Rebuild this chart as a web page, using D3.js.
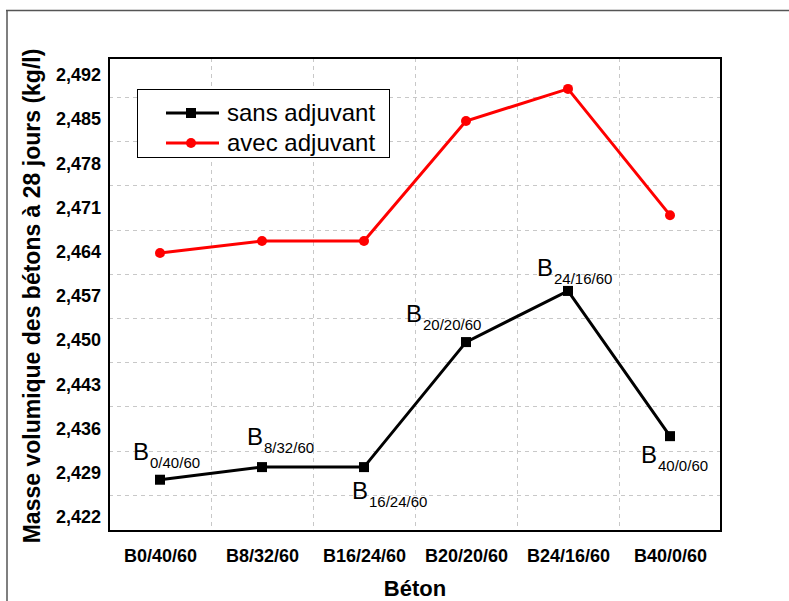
<!DOCTYPE html>
<html><head><meta charset="utf-8">
<script src="https://cdn.jsdelivr.net/npm/d3@7"></script>
<style>
html,body{margin:0;padding:0;background:#fff;}
svg{display:block;font-family:"Liberation Sans",Arial,sans-serif;}
</style></head>
<body>
<svg id="chart" width="789" height="601"></svg>
<script>
const categories = ["B0/40/60","B8/32/60","B16/24/60","B20/20/60","B24/16/60","B40/0/60"];
const subscripts = ["0/40/60","8/32/60","16/24/60","20/20/60","24/16/60","40/0/60"];
const sansAdjuvant = [2.4279, 2.4299, 2.4299, 2.4497, 2.4578, 2.4348];
const avecAdjuvant = [2.4638, 2.4657, 2.4657, 2.4847, 2.4898, 2.4698];
const yTicks = [2.422, 2.429, 2.436, 2.443, 2.450, 2.457, 2.464, 2.471, 2.478, 2.485, 2.492];
const seriesNames = ["sans adjuvant", "avec adjuvant"];
// label placement offsets (px) relative to each black point
const labelOffsets = [[-27,-20],[-15,-22],[-12,32],[-60,-20],[-31,-15],[-29,27]];

const svg = d3.select("#chart");
const L = 109, T = 58, R = 721, B = 531;

// outer frame
svg.append("line").attr("x1",6).attr("x2",789).attr("y1",10.5).attr("y2",10.5).attr("stroke","#555").attr("stroke-width",1.5);
svg.append("line").attr("x1",7).attr("x2",7).attr("y1",10).attr("y2",601).attr("stroke","#555").attr("stroke-width",1.5);

const x = d3.scalePoint().domain(categories).range([L, R]).padding(0.5);
const step = x.step();
const y = d3.scaleLinear().domain([2.41978, 2.49469]).range([B, T]);

// grid
const g = svg.append("g");
const halfStep = 0.0035;
g.selectAll(".hg").data(yTicks.slice(0, -1)).join("line")
  .attr("x1", L).attr("x2", R)
  .attr("y1", d => Math.round(y(d + halfStep)) + 0.5).attr("y2", d => Math.round(y(d + halfStep)) + 0.5)
  .attr("stroke", "#c8c8c8").attr("stroke-width", 1).attr("stroke-dasharray", "4,4");
g.selectAll(".vg").data(categories.slice(0, -1)).join("line")
  .attr("y1", T).attr("y2", B)
  .attr("x1", d => Math.round(x(d) + step/2) + 0.5).attr("x2", d => Math.round(x(d) + step/2) + 0.5)
  .attr("stroke", "#c8c8c8").attr("stroke-width", 1).attr("stroke-dasharray", "4,4");

// axes labels via d3 axes
const yAxis = d3.axisLeft(y).tickValues(yTicks).tickSize(0).tickPadding(8)
  .tickFormat(d => d3.format(".3f")(d).replace(".", ","));
const ya = svg.append("g").attr("transform", `translate(${L},0)`).call(yAxis);
ya.select(".domain").remove();
ya.selectAll("text").attr("font-family","Liberation Sans, Arial, sans-serif").attr("font-size", 18).attr("font-weight","bold").attr("fill","#000");

const xAxis = d3.axisBottom(x).tickSize(0).tickPadding(18);
const xa = svg.append("g").attr("transform", `translate(0,${B})`).call(xAxis);
xa.select(".domain").remove();
xa.selectAll("text").attr("font-family","Liberation Sans, Arial, sans-serif").attr("font-size", 18).attr("font-weight","bold").attr("fill","#000");

// plot frame
svg.append("rect").attr("x", L).attr("y", T).attr("width", R-L).attr("height", B-T)
  .attr("fill","none").attr("stroke","#000").attr("stroke-width",2);

// lines
const line = d3.line().x((d,i) => x(categories[i])).y(d => y(d));
svg.append("path").datum(avecAdjuvant).attr("d", line).attr("fill","none").attr("stroke","#ff0000").attr("stroke-width",3);
svg.append("path").datum(sansAdjuvant).attr("d", line).attr("fill","none").attr("stroke","#000").attr("stroke-width",3);

svg.selectAll(".rp").data(avecAdjuvant).join("circle")
  .attr("cx",(d,i)=>x(categories[i])).attr("cy",d=>y(d)).attr("r",5).attr("fill","#ff0000");
svg.selectAll(".bp").data(sansAdjuvant).join("rect")
  .attr("x",(d,i)=>x(categories[i])-5).attr("y",d=>y(d)-5).attr("width",10).attr("height",10).attr("fill","#000");

// point labels
sansAdjuvant.forEach((v,i) => {
  const px = x(categories[i]) + labelOffsets[i][0];
  const py = y(v) + labelOffsets[i][1];
  const t = svg.append("text").attr("x", px).attr("y", py).attr("font-size", 24).attr("fill","#000");
  t.append("tspan").text("B");
  t.append("tspan").attr("dy", 8).attr("dx", 1).attr("font-size", 15).text(subscripts[i]);
});

// legend
svg.append("rect").attr("x",137.5).attr("y",89.5).attr("width",252).attr("height",68).attr("fill","#fff").attr("stroke","#000").attr("stroke-width",1);
const legY = [113, 143];
const legColors = ["#000", "#ff0000"];
seriesNames.forEach((n,i) => {
  svg.append("line").attr("x1",166).attr("x2",219).attr("y1",legY[i]).attr("y2",legY[i]).attr("stroke",legColors[i]).attr("stroke-width",3);
  if (i === 0) svg.append("rect").attr("x",186).attr("y",legY[i]-5).attr("width",10).attr("height",10).attr("fill","#000");
  else svg.append("circle").attr("cx",191).attr("cy",legY[i]).attr("r",5).attr("fill","#ff0000");
  svg.append("text").attr("x",227).attr("y",legY[i]+8).attr("font-size",24).attr("fill","#000").text(n);
});

// axis titles
svg.append("text").attr("x", 415).attr("y", 596).attr("text-anchor","middle").attr("font-size",22).attr("font-weight","bold").text("Béton");
svg.append("text").attr("transform","translate(40,296) rotate(-90)").attr("text-anchor","middle")
  .attr("font-size",23).attr("font-weight","bold").text("Masse volumique des bétons à 28 jours (kg/l)");
</script>
</body></html>
